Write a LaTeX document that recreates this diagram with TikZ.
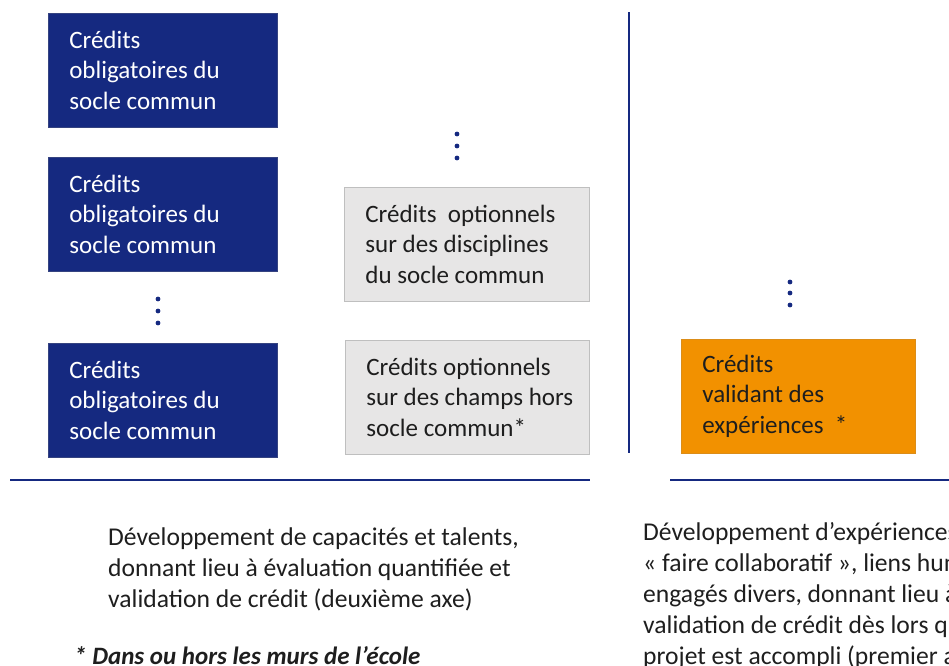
\documentclass[tikz,border=0pt]{standalone}
\usepackage{fontspec}
\setmainfont{Carlito}
\definecolor{navy}{RGB}{21,41,128}
\definecolor{lgray}{RGB}{231,230,230}
\definecolor{gborder}{RGB}{191,191,191}
\definecolor{orng}{RGB}{242,145,0}
\definecolor{dtext}{RGB}{30,30,30}
\begin{document}
\begin{tikzpicture}[x=1pt,y=-1pt,
  cbox/.style={anchor=north west,minimum height=114pt,text width=187pt,inner xsep=21pt,inner ysep=0pt,align=flush left,font=\fontsize{25}{30.5}\selectfont},
  bluebox/.style={cbox,fill=navy,text=white,draw=navy!70!gray,line width=0.6pt},
  graybox/.style={cbox,text width=203pt,fill=lgray,draw=gborder,line width=0.8pt,text=dtext},
  orangebox/.style={cbox,text width=192pt,fill=orng,draw=orng!80!gray,line width=0.6pt,text=dtext},
  axis/.style={draw=navy,line width=2.2pt},
  bodytext/.style={anchor=north west,inner sep=0pt,align=left,text=dtext,font=\fontsize{25.6}{31}\selectfont},
  dot/.style={fill=navy}
]
\useasboundingbox (0,0) rectangle (949,665);
\begin{scope}
\clip (0,0) rectangle (949,665);
% blue boxes
\node[bluebox] (b1) at (48,13) {Crédits\\obligatoires du\\socle commun};
\node[bluebox] (b2) at (48,157) {Crédits\\obligatoires du\\socle commun};
\node[bluebox] (b3) at (48,343) {Crédits\\obligatoires du\\socle commun};
% gray boxes
\node[graybox] (g1) at (344,187) {Crédits\ \ optionnels\\sur des disciplines\\du socle commun};
\node[graybox,text width=202pt] (g2) at (345,340) {Crédits optionnels\\\mbox{sur des champs hors}\\socle commun*};
% orange box
\node[orangebox] (o1) at (681,339) {Crédits\\validant des\\expériences\ \ *};
% dots
\foreach \yy in {299,311,323} \fill[dot] (158,\yy) circle (2.4pt);
\foreach \yy in {134,146,158} \fill[dot] (457,\yy) circle (2.4pt);
\foreach \yy in {282,293,305} \fill[dot] (790,\yy) circle (2.4pt);
% axes
\coordinate (vtop) at (629,12);
\coordinate (vbot) at (629,453);
\coordinate (hl1) at (10,480);
\coordinate (hl2) at (590,480);
\coordinate (hr1) at (670,480);
\coordinate (hr2) at (960,480);
\draw[axis] (vtop) -- (vbot);
\draw[axis] (hl1) -- (hl2);
\draw[axis] (hr1) -- (hr2);
% texts
\node[bodytext] (tl) at (108,528) {Développement de capacités et talents,\\donnant lieu à évaluation quantifiée et\\validation de crédit (deuxième axe)};
\node[bodytext] (tr) at (643,522) {Développement d’expériences de\\« faire collaboratif », liens humains\\engagés divers, donnant lieu à\\validation de crédit dès lors que le\\projet est accompli (premier axe)};
\node[bodytext,font=\fontsize{25}{31}\selectfont\bfseries\itshape] (fn) at (74,646) {* Dans ou hors les murs de l’école};
\end{scope}
\end{tikzpicture}
\end{document}
